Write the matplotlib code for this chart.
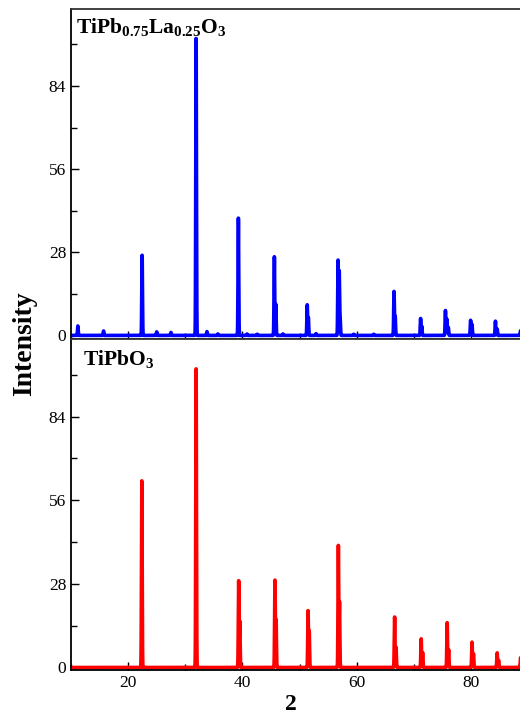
import numpy as np
import matplotlib
matplotlib.use("Agg")
import matplotlib.pyplot as plt
from matplotlib.ticker import MultipleLocator

plt.rcParams['font.family'] = ['Liberation Serif', 'DejaVu Serif']
plt.rcParams['mathtext.fontset'] = 'custom'
plt.rcParams['mathtext.rm'] = 'Liberation Serif:bold'
plt.rcParams['mathtext.it'] = 'Liberation Serif:bold'
plt.rcParams['mathtext.bf'] = 'Liberation Serif:bold'

# Peak tables (2theta position, intensity)
la_pos = [11.2, 15.7, 22.45, 25.0, 27.5, 31.9, 33.8, 35.7, 39.3, 40.8, 42.6,
          45.6, 45.85, 47.1, 51.35, 51.55, 52.9, 56.75, 56.95, 57.1, 59.5, 63.0,
          66.55, 66.75, 71.2, 71.4, 75.55, 75.8, 76.05, 79.95, 80.2, 84.3, 84.6, 88.7]
la_int = [3.2, 1.5, 27.0, 1.2, 1.0, 100.0, 1.3, 0.5, 39.5, 0.5, 0.4,
          26.5, 10.5, 0.5, 10.3, 6.0, 0.6, 25.3, 21.5, 6.0, 0.4, 0.4,
          14.8, 6.5, 5.7, 3.1, 8.4, 5.5, 2.7, 5.1, 3.7, 4.8, 2.2, 1.6]

pb_pos = [22.4, 31.9, 39.35, 39.55, 45.7, 45.9, 51.5, 51.7, 56.8, 57.0,
          66.65, 66.9, 71.3, 71.55, 75.85, 76.1, 80.2, 80.45, 84.6, 84.85, 88.7]
pb_int = [62.5, 100.0, 29.0, 15.5, 29.2, 16.0, 19.0, 12.3, 40.8, 22.0,
          16.9, 6.8, 9.6, 5.0, 15.0, 6.0, 8.5, 4.6, 4.9, 2.4, 3.3]

y_ticks = [0, 28, 56, 84]
x_ticks = [20, 40, 60, 80]
label_top = r"TiPb$_{\mathbf{0.75}}$La$_{\mathbf{0.25}}$O$_{\mathbf{3}}$"
label_bot = r"TiPbO$_{\mathbf{3}}$"

two_theta = np.arange(10.0, 90.0, 0.01)


def pattern(pos, inten, sigma=0.06):
    y = np.zeros_like(two_theta)
    for p, h in zip(pos, inten):
        y += h * np.exp(-0.5 * ((two_theta - p) / sigma) ** 2)
    return y


W, H = 520, 715
fig = plt.figure(figsize=(W / 100, H / 100), dpi=100)
left = 71 / W
width = 457 / W
ax1 = fig.add_axes([left, 1 - 339 / H, width, 330.5 / H])
ax2 = fig.add_axes([left, 1 - 670 / H, width, 331 / H])

ax1.plot(two_theta, pattern(la_pos, la_int), color='#0000ff', lw=2.6)
ax2.plot(two_theta, pattern(pb_pos, pb_int), color='#ff0000', lw=2.6)

ax1.set_ylim(-1.2, 110.1)
ax2.set_ylim(-0.84, 110.0)

for ax in (ax1, ax2):
    ax.set_xlim(10, 90)
    ax.set_xticks(x_ticks)
    ax.set_yticks(y_ticks)
    ax.xaxis.set_minor_locator(MultipleLocator(10))
    ax.yaxis.set_minor_locator(MultipleLocator(14))
    ax.tick_params(which='major', direction='in', length=6, width=1.0, labelsize=12.5)
    ax.tick_params(which='minor', direction='in', length=4, width=1.0)
    for s in ax.spines.values():
        s.set_linewidth(1.3)
    ax.spines['top'].set_color('#333333')
    ax.spines['right'].set_color('#333333')

ax1.tick_params(axis='x', which='both', labelbottom=False)

ax1.text(0.011, 0.926, label_top, transform=ax1.transAxes, fontsize=15.5,
         fontweight='bold', va='baseline', ha='left')
ax2.text(0.026, 0.921, label_bot, transform=ax2.transAxes, fontsize=15.5,
         fontweight='bold', va='baseline', ha='left')

fig.text(25 / W, 1 - 344 / H, "Intensity", rotation=90, fontsize=20,
         fontweight='bold', ha='center', va='center')
fig.text(291 / W, 1 - 705 / H, "2", fontsize=17, fontweight='bold',
         ha='center', va='center')

fig.savefig("out.png", dpi=100)
